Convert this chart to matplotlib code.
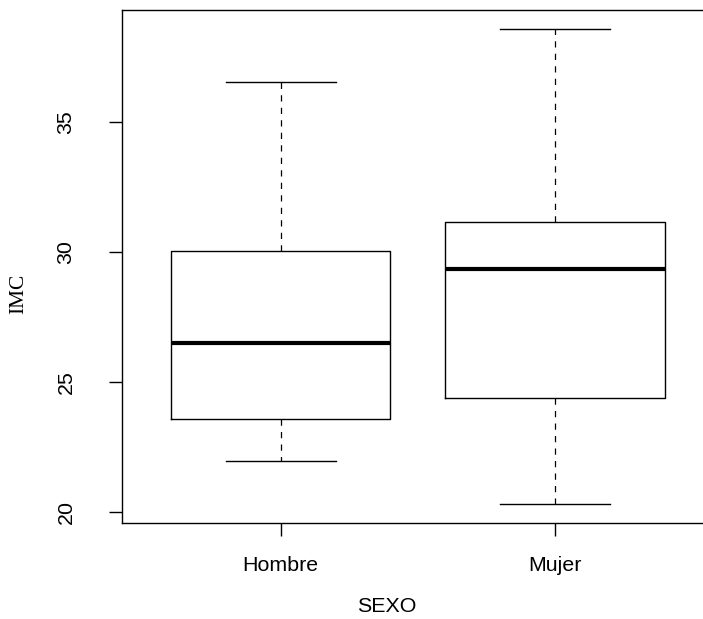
import matplotlib
matplotlib.use("Agg")
import matplotlib.pyplot as plt

# ------------------- data ---------------------------------------------
groups = ["Hombre", "Mujer"]
whislo = [21.95, 20.29]
q1 = [23.55, 24.37]
med = [26.51, 29.35]
q3 = [30.03, 31.16]
whishi = [36.55, 38.59]

stats = []
for i, g in enumerate(groups):
    stats.append({"label": g, "whislo": whislo[i], "q1": q1[i], "med": med[i],
                  "q3": q3[i], "whishi": whishi[i], "fliers": []})

# ------------------- figure ---------------------
fig = plt.figure(figsize=(7.03, 6.19), dpi=100)
ax = fig.add_axes([121.6 / 703, 96 / 619, (714 - 121.6) / 703, 513 / 619])

ax.bxp(stats, positions=[1, 2], widths=0.8, showfliers=False,
       boxprops=dict(color="black", linewidth=1.0),
       medianprops=dict(color="black", linewidth=3.0, solid_capstyle="butt"),
       whiskerprops=dict(color="black", linewidth=0.9, linestyle=(0, (5, 5))),
       capprops=dict(color="black", linewidth=1.0), capwidths=0.4)

ax.set_xlim(0.42, 2.58)
ax.set_ylim(19.56, 39.32)
ax.set_yticks([20, 25, 30, 35])
ax.set_xticks([1, 2])
ax.set_xticklabels([])
ax.set_yticklabels([])
ax.tick_params(length=9.3, width=1.0, color="black")
for s in ax.spines.values():
    s.set_linewidth(1.0)
ax.spines["right"].set_visible(False)

font = "Liberation Sans"
for v in [20, 25, 30, 35]:
    ax.text(-0.094, v, str(v), transform=ax.get_yaxis_transform(),
            rotation=90, ha="center", va="center", fontsize=15.4, family=font)
for i, g in enumerate(groups):
    ax.text(i + 1, -0.082, g, transform=ax.get_xaxis_transform(),
            ha="center", va="center", fontsize=15.4, family=font)

fig.text(386.7 / 703, 1 - 606 / 619, "SEXO", ha="center", va="center",
         fontsize=15.4, family=font)
fig.text(19 / 703, 1 - 294 / 619, "IMC", ha="center", va="center",
         rotation=90, fontsize=15.4, family="Liberation Serif")

fig.savefig("out.png", dpi=100)
